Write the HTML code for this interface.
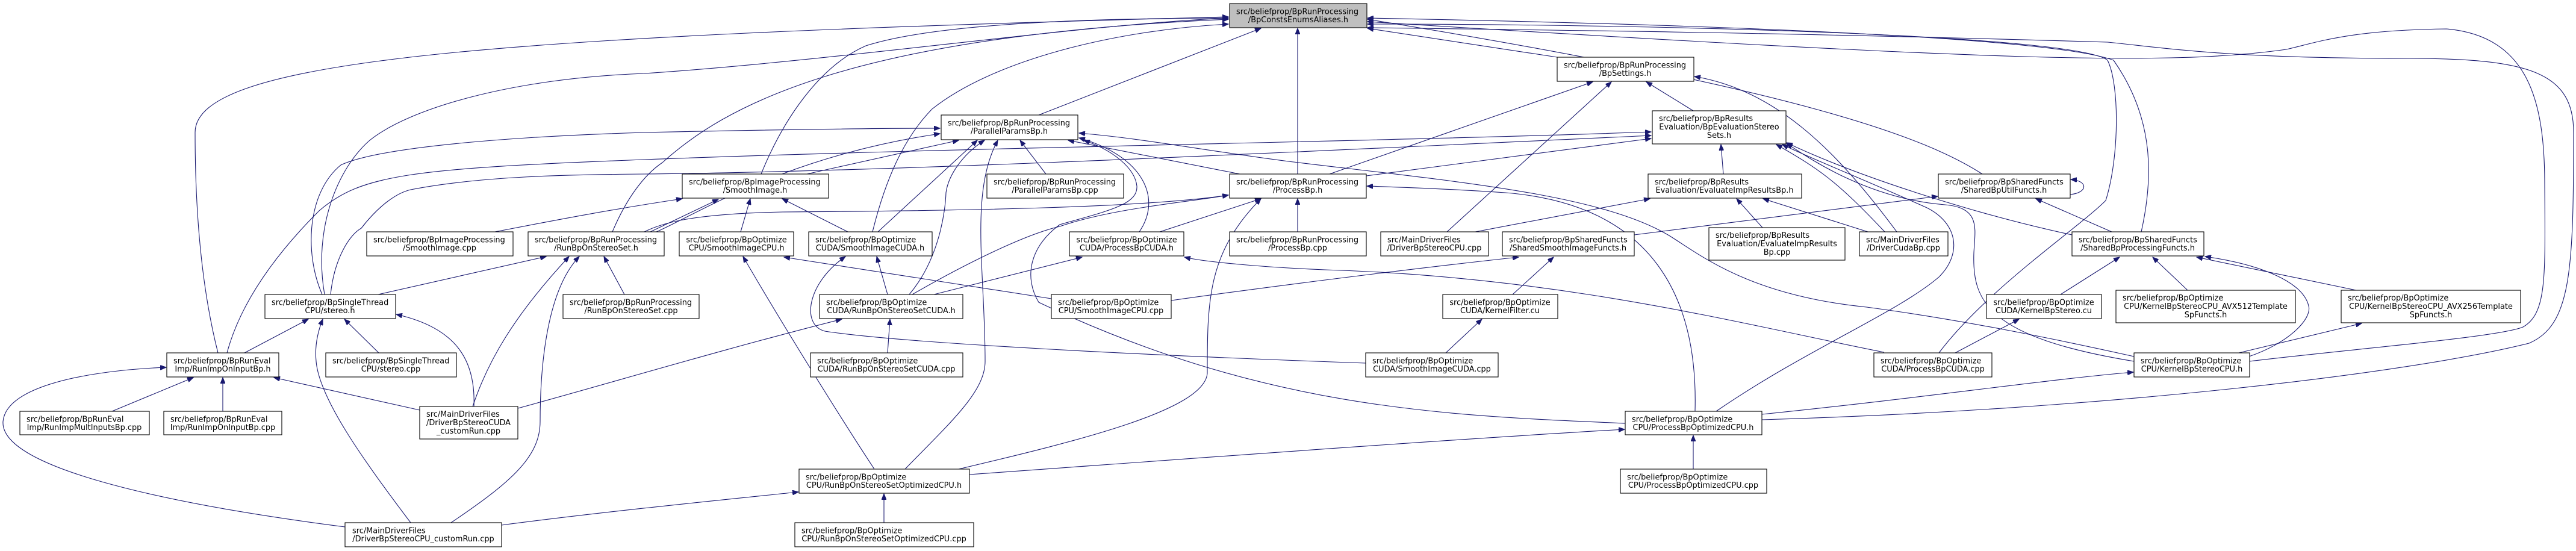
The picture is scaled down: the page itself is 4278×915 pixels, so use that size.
<!DOCTYPE html>
<html><head><meta charset="utf-8"><style>
html,body{margin:0;padding:0;background:#fff;}
svg{display:block;}
text{font-family:"DejaVu Sans","Liberation Sans",sans-serif;font-size:12.9px;fill:#000;}
.e{fill:none;stroke:#191970;stroke-width:1.1;marker-end:url(#ah);}
.n{fill:#fff;stroke:#000;stroke-width:1.1;}
</style></head><body>
<svg width="4278" height="915" viewBox="0 0 4278 915" xmlns="http://www.w3.org/2000/svg">
<defs><marker id="ah" markerUnits="userSpaceOnUse" markerWidth="11" markerHeight="8" refX="10" refY="4" orient="auto"><path d="M0,0 L10,4 L0,8 z" fill="#191970" stroke="#191970"/></marker></defs>
<g>
<path class="e" d="M362,586 C330,460 324,320 324,220 C324,100 800,60 2040,28"/>
<path class="e" d="M377,586 C400,500 460,420 530,350 C600,290 680,280 1070,265 C1600,245 2300,235 2742,219"/>
<path class="e" d="M539,489 C520,380 560,280 614,233 C680,180 850,130 1070,122 C1400,100 1800,40 2040,30"/>
<path class="e" d="M535,489 C505,420 510,320 566,274 C640,240 900,225 1070,220 C1300,215 1450,213 1561,213"/>
<path class="e" d="M549,489 C555,430 580,390 600,379 C630,340 660,320 682,315 C800,292 950,290 1070,289 C1500,285 2200,250 2742,225"/>
<path class="e" d="M1017,385 C1040,330 1070,290 1100,270 C1200,180 1400,60 2040,32"/>
<path class="e" d="M1080,385 L1193,331"/>
<path class="e" d="M822,385 C900,370 1000,350 1133,330"/>
<path class="e" d="M1090,385 C1150,360 1300,260 1561,222"/>
<path class="e" d="M1070,385 C1100,370 1150,355 1300,352 C1600,350 1900,345 2040,324"/>
<path class="e" d="M628,489 L907,426"/>
<path class="e" d="M1037,489 L1003,426"/>
<path class="e" d="M785,675 C810,600 853,525 945,426"/>
<path class="e" d="M749,868 C850,800 897,758 897,700 C897,600 910,480 962,426"/>
<path class="e" d="M406,586 L512,530"/>
<path class="e" d="M629,586 L572,530"/>
<path class="e" d="M787,675 C790,600 760,545 658,522"/>
<path class="e" d="M682,868 C600,760 530,660 525,600 C522,570 530,545 536,530"/>
<path class="e" d="M186,683 L321,627"/>
<path class="e" d="M370,683 L370,627"/>
<path class="e" d="M697,681 L455,627"/>
<path class="e" d="M573,875 C300,840 0,780 5,700 C10,640 150,615 276,610"/>
<path class="e" d="M860,678 C1000,640 1200,580 1398,530"/>
<path class="e" d="M833,872 C1000,850 1200,830 1326,817"/>
<path class="e" d="M1230,385 L1246,330"/>
<path class="e" d="M1408,385 L1299,330"/>
<path class="e" d="M1264,289 C1300,200 1360,110 1438,76 C1550,40 1800,30 2040,30"/>
<path class="e" d="M1340,289 L1592,233"/>
<path class="e" d="M1452,779 C1400,700 1300,540 1234,426"/>
<path class="e" d="M1746,496 L1302,427"/>
<path class="e" d="M2268,603 C1900,590 1500,570 1370,550 C1330,540 1340,470 1404,426"/>
<path class="e" d="M1449,385 C1470,300 1500,230 1548,181 C1650,100 1850,50 2040,40"/>
<path class="e" d="M1458,385 L1623,233"/>
<path class="e" d="M1474,489 L1456,426"/>
<path class="e" d="M1474,586 L1478,530"/>
<path class="e" d="M1510,489 C1560,430 1570,350 1571,320 C1575,290 1600,255 1635,233"/>
<path class="e" d="M1515,489 C1600,440 1700,390 1760,376 C1850,345 1980,335 2040,324"/>
<path class="e" d="M1551,489 L1797,427"/>
<path class="e" d="M1503,779 C1580,700 1636,650 1636,600 C1636,450 1610,320 1657,233"/>
<path class="e" d="M1592,779 C1800,730 2000,680 2005,620 C2005,500 2005,420 2094,330"/>
<path class="e" d="M1610,788 C2000,760 2400,730 2698,713"/>
<path class="e" d="M1468,868 L1468,820"/>
<path class="e" d="M1737,289 L1694,233"/>
<path class="e" d="M1725,191 L2094,47"/>
<path class="e" d="M1892,385 C1930,330 1900,260 1792,229"/>
<path class="e" d="M1926,385 L2094,330"/>
<path class="e" d="M3129,585 C2900,540 2600,460 2200,448 C2100,444 2000,435 1967,427"/>
<path class="e" d="M1945,499 C2150,470 2400,440 2522,427"/>
<path class="e" d="M2059,289 L1774,233"/>
<path class="e" d="M3544,592 C3400,560 3250,530 3100,510 C2900,490 2820,420 2770,390 C2650,320 2400,300 2140,268 C2000,250 1900,230 1792,221"/>
<path class="e" d="M2699,703 C2400,690 2100,680 1725,502 C1700,460 1710,410 1760,373 C1840,350 1890,340 1888,309 C1885,280 1850,250 1800,233"/>
<path class="e" d="M2815,683 C2820,500 2750,340 2500,320 C2400,313 2300,310 2270,309"/>
<path class="e" d="M2155,385 L2155,330"/>
<path class="e" d="M2155,289 L2155,47"/>
<path class="e" d="M2812,779 L2812,723"/>
<path class="e" d="M2586,95 L2271,47"/>
<path class="e" d="M2403,385 L2676,136"/>
<path class="e" d="M2208,289 L2645,136"/>
<path class="e" d="M2812,184 L2734,136"/>
<path class="e" d="M3150,385 C3050,250 2950,150 2814,127"/>
<path class="e" d="M2862,289 L2858,240"/>
<path class="e" d="M2450,385 L2740,330"/>
<path class="e" d="M2927,378 L2884,330"/>
<path class="e" d="M3102,385 L2928,330"/>
<path class="e" d="M2714,390 L3218,326"/>
<path class="e" d="M2512,489 L2580,427"/>
<path class="e" d="M2401,586 L2461,530"/>
<path class="e" d="M2269,292 L2742,230"/>
<path class="e" d="M3507,385 L3381,330"/>
<path class="e" d="M3438,323 C3468,320 3468,300 3439,298"/>
<path class="e" d="M3292,289 C3200,230 3000,150 2271,32"/>
<path class="e" d="M3556,385 C3575,300 3580,200 3510,100 C3400,60 2800,40 2271,30"/>
<path class="e" d="M3441,390 C3300,360 3100,300 2967,237"/>
<path class="e" d="M3422,489 L3520,427"/>
<path class="e" d="M3633,482 L3575,427"/>
<path class="e" d="M3913,482 L3648,427"/>
<path class="e" d="M3735,592 C3800,570 3840,530 3834,508 C3825,470 3760,440 3662,426"/>
<path class="e" d="M3718,586 L3922,537"/>
<path class="e" d="M3247,586 L3353,530"/>
<path class="e" d="M3220,586 C3300,480 3450,380 3497,333 C3520,260 3520,140 3500,100 C3450,60 2800,40 2271,40"/>
<path class="e" d="M2926,688 C3200,660 3400,630 3543,618"/>
<path class="e" d="M2926,697 C3500,680 4000,620 4200,570 C4270,540 4274,450 4274,220 C4274,120 4200,97 4000,97 C3700,97 3600,80 3500,70 C3000,55 2600,50 2271,46"/>
<path class="e" d="M3736,600 C3900,580 4150,560 4190,543 C4230,520 4227,460 4226,300 C4225,170 4200,60 4063,48 C3900,50 3850,70 3797,82 C3600,110 3300,100 2271,36"/>
<path class="e" d="M3544,600 C3300,560 3275,500 3278,420 C3280,380 3290,345 3230,340 C3100,330 3000,260 2967,238"/>
<path class="e" d="M2850,683 C3000,580 3150,520 3220,460 C3260,420 3250,370 3200,345 C3100,300 3000,260 2960,240"/>
<path class="e" d="M3130,385 C3050,300 3020,280 2950,240"/>
</g>
<g>
<rect x="2042" y="6" width="228" height="40" fill="#bfbfbf" stroke="#000" stroke-width="1.1"/>
<text x="2053" y="23.5">src/beliefprop/BpRunProcessing</text><text x="2156" y="37" text-anchor="middle">/BpConstsEnumsAliases.h</text>

<rect class="n" x="2586" y="95" width="227" height="40"/>
<text x="2597" y="112.5">src/beliefprop/BpRunProcessing</text><text x="2699" y="126" text-anchor="middle">/BpSettings.h</text>

<rect class="n" x="1563" y="191" width="227" height="41"/>
<text x="1574" y="208.5">src/beliefprop/BpRunProcessing</text><text x="1676" y="222" text-anchor="middle">/ParallelParamsBp.h</text>

<rect class="n" x="2744" y="184" width="222" height="55"/>
<text x="2755" y="201">src/beliefprop/BpResults</text><text x="2855" y="215" text-anchor="middle">Evaluation/BpEvaluationStereo</text><text x="2855" y="229" text-anchor="middle">Sets.h</text>

<rect class="n" x="1133" y="289" width="243" height="40"/>
<text x="1144" y="306.5">src/beliefprop/BpImageProcessing</text><text x="1254" y="320" text-anchor="middle">/SmoothImage.h</text>

<rect class="n" x="1639" y="289" width="227" height="40"/>
<text x="1650" y="306.5">src/beliefprop/BpRunProcessing</text><text x="1752" y="320" text-anchor="middle">/ParallelParamsBp.cpp</text>

<rect class="n" x="2042" y="289" width="227" height="40"/>
<text x="2053" y="306.5">src/beliefprop/BpRunProcessing</text><text x="2155" y="320" text-anchor="middle">/ProcessBp.h</text>

<rect class="n" x="2737" y="289" width="255" height="40"/>
<text x="2748" y="306.5">src/beliefprop/BpResults</text><text x="2864" y="320" text-anchor="middle">Evaluation/EvaluateImpResultsBp.h</text>

<rect class="n" x="3219" y="289" width="219" height="40"/>
<text x="3230" y="306.5">src/beliefprop/BpSharedFuncts</text><text x="3328" y="320" text-anchor="middle">/SharedBpUtilFuncts.h</text>

<rect class="n" x="609" y="385" width="243" height="40"/>
<text x="620" y="402.5">src/beliefprop/BpImageProcessing</text><text x="730" y="416" text-anchor="middle">/SmoothImage.cpp</text>

<rect class="n" x="877" y="385" width="226" height="40"/>
<text x="888" y="402.5">src/beliefprop/BpRunProcessing</text><text x="990" y="416" text-anchor="middle">/RunBpOnStereoSet.h</text>

<rect class="n" x="1128" y="385" width="190" height="40"/>
<text x="1223" y="402.5" text-anchor="middle">src/beliefprop/BpOptimize</text><text x="1223" y="416" text-anchor="middle">CPU/SmoothImageCPU.h</text>

<rect class="n" x="1343" y="385" width="205" height="40"/>
<text x="1354" y="402.5">src/beliefprop/BpOptimize</text><text x="1445" y="416" text-anchor="middle">CUDA/SmoothImageCUDA.h</text>

<rect class="n" x="1776" y="385" width="190" height="40"/>
<text x="1871" y="402.5" text-anchor="middle">src/beliefprop/BpOptimize</text><text x="1871" y="416" text-anchor="middle">CUDA/ProcessBpCUDA.h</text>

<rect class="n" x="2042" y="385" width="227" height="40"/>
<text x="2053" y="402.5">src/beliefprop/BpRunProcessing</text><text x="2155" y="416" text-anchor="middle">/ProcessBp.cpp</text>

<rect class="n" x="2293" y="385" width="179" height="40"/>
<text x="2304" y="402.5">src/MainDriverFiles</text><text x="2382" y="416" text-anchor="middle">/DriverBpStereoCPU.cpp</text>

<rect class="n" x="2495" y="385" width="219" height="40"/>
<text x="2506" y="402.5">src/beliefprop/BpSharedFuncts</text><text x="2604" y="416" text-anchor="middle">/SharedSmoothImageFuncts.h</text>

<rect class="n" x="2838" y="378" width="226" height="54"/>
<text x="2849" y="395">src/beliefprop/BpResults</text><text x="2951" y="409" text-anchor="middle">Evaluation/EvaluateImpResults</text><text x="2951" y="423" text-anchor="middle">Bp.cpp</text>

<rect class="n" x="3088" y="385" width="147" height="40"/>
<text x="3099" y="402.5">src/MainDriverFiles</text><text x="3161" y="416" text-anchor="middle">/DriverCudaBp.cpp</text>

<rect class="n" x="3441" y="385" width="219" height="40"/>
<text x="3452" y="402.5">src/beliefprop/BpSharedFuncts</text><text x="3550" y="416" text-anchor="middle">/SharedBpProcessingFuncts.h</text>

<rect class="n" x="440" y="489" width="217" height="40"/>
<text x="451" y="506.5">src/beliefprop/BpSingleThread</text><text x="548" y="520" text-anchor="middle">CPU/stereo.h</text>

<rect class="n" x="935" y="489" width="226" height="40"/>
<text x="946" y="506.5">src/beliefprop/BpRunProcessing</text><text x="1048" y="520" text-anchor="middle">/RunBpOnStereoSet.cpp</text>

<rect class="n" x="1361" y="489" width="238" height="40"/>
<text x="1372" y="506.5">src/beliefprop/BpOptimize</text><text x="1480" y="520" text-anchor="middle">CUDA/RunBpOnStereoSetCUDA.h</text>

<rect class="n" x="1746" y="489" width="199" height="40"/>
<text x="1757" y="506.5">src/beliefprop/BpOptimize</text><text x="1845" y="520" text-anchor="middle">CPU/SmoothImageCPU.cpp</text>

<rect class="n" x="2396" y="489" width="191" height="40"/>
<text x="2491" y="506.5" text-anchor="middle">src/beliefprop/BpOptimize</text><text x="2491" y="520" text-anchor="middle">CUDA/KernelFilter.cu</text>

<rect class="n" x="3299" y="489" width="191" height="40"/>
<text x="3394" y="506.5" text-anchor="middle">src/beliefprop/BpOptimize</text><text x="3394" y="520" text-anchor="middle">CUDA/KernelBpStereo.cu</text>

<rect class="n" x="3514" y="482" width="298" height="54"/>
<text x="3525" y="499">src/beliefprop/BpOptimize</text><text x="3663" y="513" text-anchor="middle">CPU/KernelBpStereoCPU_AVX512Template</text><text x="3663" y="527" text-anchor="middle">SpFuncts.h</text>

<rect class="n" x="3888" y="482" width="298" height="54"/>
<text x="3899" y="499">src/beliefprop/BpOptimize</text><text x="4037" y="513" text-anchor="middle">CPU/KernelBpStereoCPU_AVX256Template</text><text x="4037" y="527" text-anchor="middle">SpFuncts.h</text>

<rect class="n" x="277" y="586" width="186" height="40"/>
<text x="288" y="603.5">src/beliefprop/BpRunEval</text><text x="370" y="617" text-anchor="middle">Imp/RunImpOnInputBp.h</text>

<rect class="n" x="541" y="586" width="217" height="40"/>
<text x="552" y="603.5">src/beliefprop/BpSingleThread</text><text x="649" y="617" text-anchor="middle">CPU/stereo.cpp</text>

<rect class="n" x="1346" y="586" width="253" height="40"/>
<text x="1357" y="603.5">src/beliefprop/BpOptimize</text><text x="1472" y="617" text-anchor="middle">CUDA/RunBpOnStereoSetCUDA.cpp</text>

<rect class="n" x="2268" y="586" width="220" height="40"/>
<text x="2279" y="603.5">src/beliefprop/BpOptimize</text><text x="2378" y="617" text-anchor="middle">CUDA/SmoothImageCUDA.cpp</text>

<rect class="n" x="3112" y="586" width="196" height="40"/>
<text x="3123" y="603.5">src/beliefprop/BpOptimize</text><text x="3210" y="617" text-anchor="middle">CUDA/ProcessBpCUDA.cpp</text>

<rect class="n" x="3544" y="586" width="192" height="40"/>
<text x="3555" y="603.5">src/beliefprop/BpOptimize</text><text x="3640" y="617" text-anchor="middle">CPU/KernelBpStereoCPU.h</text>

<rect class="n" x="33" y="683" width="215" height="39"/>
<text x="44" y="700.5">src/beliefprop/BpRunEval</text><text x="140" y="714" text-anchor="middle">Imp/RunImpMultInputsBp.cpp</text>

<rect class="n" x="272" y="683" width="196" height="39"/>
<text x="283" y="700.5">src/beliefprop/BpRunEval</text><text x="370" y="714" text-anchor="middle">Imp/RunImpOnInputBp.cpp</text>

<rect class="n" x="697" y="675" width="163" height="54"/>
<text x="708" y="692">src/MainDriverFiles</text><text x="778" y="706" text-anchor="middle">/DriverBpStereoCUDA</text><text x="778" y="720" text-anchor="middle">_customRun.cpp</text>

<rect class="n" x="2699" y="683" width="227" height="39"/>
<text x="2710" y="700.5">src/beliefprop/BpOptimize</text><text x="2812" y="714" text-anchor="middle">CPU/ProcessBpOptimizedCPU.h</text>

<rect class="n" x="1327" y="779" width="283" height="40"/>
<text x="1338" y="796.5">src/beliefprop/BpOptimize</text><text x="1468" y="810" text-anchor="middle">CPU/RunBpOnStereoSetOptimizedCPU.h</text>

<rect class="n" x="2691" y="779" width="243" height="40"/>
<text x="2702" y="796.5">src/beliefprop/BpOptimize</text><text x="2812" y="810" text-anchor="middle">CPU/ProcessBpOptimizedCPU.cpp</text>

<rect class="n" x="1320" y="868" width="297" height="40"/>
<text x="1331" y="885.5">src/beliefprop/BpOptimize</text><text x="1468" y="899" text-anchor="middle">CPU/RunBpOnStereoSetOptimizedCPU.cpp</text>

<rect class="n" x="573" y="868" width="260" height="40"/>
<text x="585" y="885.5">src/MainDriverFiles</text><text x="703" y="899" text-anchor="middle">/DriverBpStereoCPU_customRun.cpp</text>
</g>
</svg>
</body></html>
